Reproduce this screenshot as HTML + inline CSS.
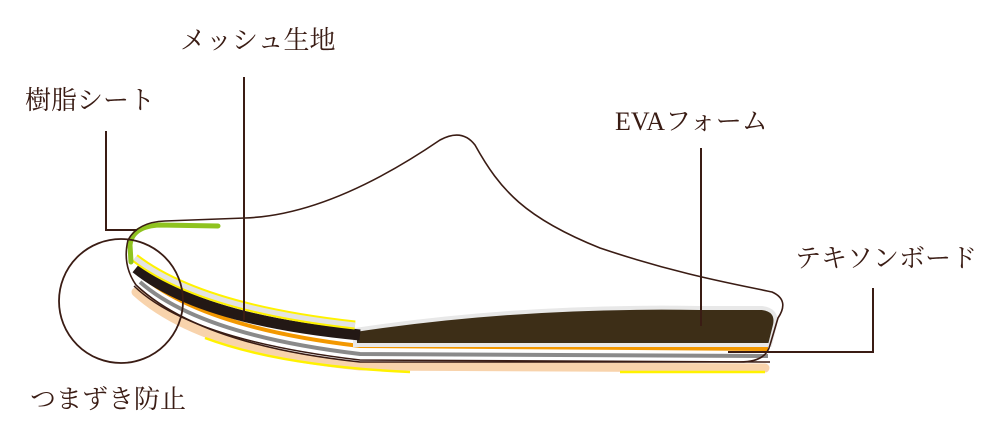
<!DOCTYPE html>
<html><head><meta charset="utf-8"><style>
html,body{margin:0;padding:0;background:#fff;}
svg{display:block}
text{font-family:"Liberation Serif","Noto Serif CJK SC",serif;font-size:26px;fill:#3a1c14;}
</style></head><body>
<svg width="1000" height="440" viewBox="0 0 1000 440" xmlns="http://www.w3.org/2000/svg">
<path d="M136,292 Q200,350 360,366 L765,368" stroke="#f8d3ac" stroke-width="9" fill="none" stroke-linecap="round"/>
<path d="M205,338 Q280,366 410,372" stroke="#fff200" stroke-width="2.5" fill="none"/>
<path d="M620,372 L765,372" stroke="#fff200" stroke-width="2.5" fill="none"/>
<path d="M134,286 Q190,340 360,360 L770,362" stroke="#3a1c14" stroke-width="1.5" fill="none"/>
<path d="M140,282 Q200,335 360,354 L768,356" stroke="#8a8a8a" stroke-width="4" fill="none"/>
<path d="M142,276 Q205,328 360,346 L768,349" stroke="#f39800" stroke-width="4" fill="none"/>
<path d="M355,330 Q520,305 700,308 L762,308 Q778,310 775,325 L770,345 L355,345 Z" fill="#3d2e17" stroke="#e8e8e8" stroke-width="4"/>
<path d="M136,268 Q200,320 360,335" stroke="#231815" stroke-width="11" fill="none"/>
<path d="M135,258 Q200,308 355,325" stroke="#fff200" stroke-width="9" fill="none"/>
<path d="M135,258 Q200,308 355,325" stroke="#e3e3e3" stroke-width="5" fill="none"/>
<path d="M131,262 L130,245 Q132,226 160,225 L218,226" stroke="#8fc31f" stroke-width="5" fill="none" stroke-linecap="round"/>
<path d="M245,218 Q330,215 440,140 Q462,128 475,145 C500,190 525,218 600,248 C680,275 740,285 772,292 Q790,300 778,318 L770,345 Q766,362 740,362 L360,362 Q200,345 136,285 Q122,265 128,240 Q138,222 165,221 Z" stroke="#3a1c14" stroke-width="1.6" fill="none"/>
<circle cx="121" cy="301" r="62" stroke="#3a1c14" stroke-width="1.8" fill="none"/>
<g stroke="#3a1c14" stroke-width="2" fill="none">
<path d="M106,131 L106,230 L137,230"/>
<path d="M244,77 L244,320"/>
<path d="M701,148 L701,326"/>
<path d="M873,288 L873,352 L728,352"/>
</g>
<text x="180" y="49">メッシュ生地</text>
<text x="25" y="109">樹脂シート</text>
<text x="615" y="130">EVAフォーム</text>
<text x="795" y="267">テキソンボード</text>
<text x="30" y="408">つまずき防止</text>
</svg>
</body></html>
